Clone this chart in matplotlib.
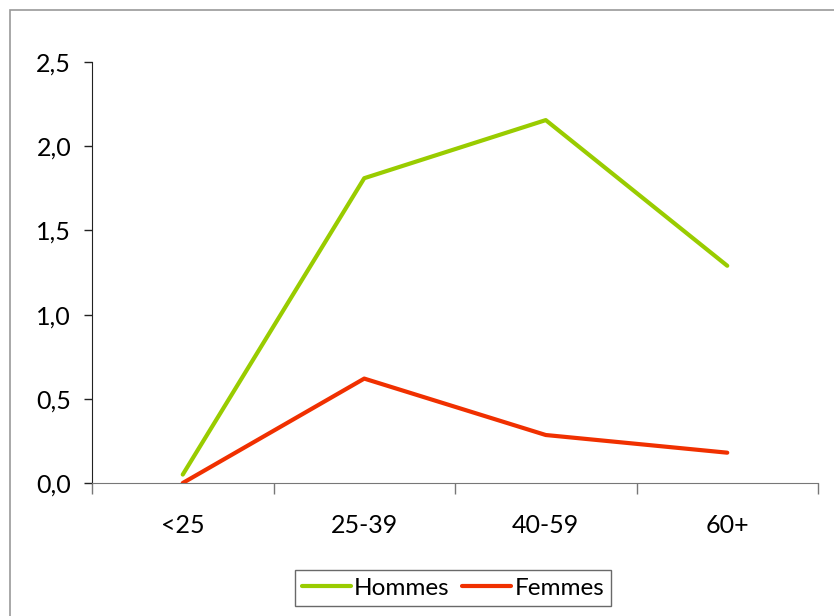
import matplotlib.pyplot as plt
from matplotlib.patches import Rectangle

categories = ['<25', '25-39', '40-59', '60+']
hommes = [0.05, 1.81, 2.155, 1.29]
femmes = [0.0, 0.62, 0.285, 0.18]
yticks = [0.0, 0.5, 1.0, 1.5, 2.0, 2.5]
ytick_labels = ['0,0', '0,5', '1,0', '1,5', '2,0', '2,5']

plt.rcParams['font.family'] = ['Lato', 'DejaVu Sans']

W, H = 834, 616
fig = plt.figure(figsize=(W / 100, H / 100), dpi=100)
fig.patches.append(Rectangle((10 / W, -0.1), 1.2, 1 - 10 / H + 0.1,
                             transform=fig.transFigure, fill=False,
                             edgecolor='#999999', lw=1.2))

ax = fig.add_axes([92 / W, 1 - 483 / H, (818 - 92) / W, (483 - 62) / H])
x = list(range(len(categories)))
ax.plot(x, hommes, color='#99CC00', lw=3, label='Hommes', solid_capstyle='round')
ax.plot(x, femmes, color='#F03000', lw=3, label='Femmes', solid_capstyle='round')

ax.set_xlim(-0.5, len(categories) - 0.5)
ax.set_ylim(0, 2.5)
ax.set_yticks(yticks)
ax.set_yticklabels(ytick_labels)
ax.set_xticks([i - 0.5 for i in range(len(categories) + 1)])
ax.set_xticklabels([])
ax.set_xticks(x, minor=True)
ax.set_xticklabels(categories, minor=True)

for s in ('top', 'right'):
    ax.spines[s].set_visible(False)
ax.spines['left'].set_color('#222222')
ax.spines['bottom'].set_color('#777777')
ax.tick_params(axis='y', length=6, width=1, color='#222222', pad=9, labelsize=18)
ax.tick_params(axis='x', which='major', length=8, width=1, color='#777777')
ax.tick_params(axis='x', which='minor', length=0, pad=22, labelsize=18)
ax.patch.set_alpha(0)

fig.legend(loc='center', bbox_to_anchor=(453 / W, 1 - 588 / H), ncol=2,
           frameon=True, fancybox=False, edgecolor='#444444', fontsize=17.5,
           handlelength=2.0, handletextpad=0.15, columnspacing=0.5,
           borderpad=0.3, borderaxespad=0)

fig.savefig('out.png', dpi=100)
